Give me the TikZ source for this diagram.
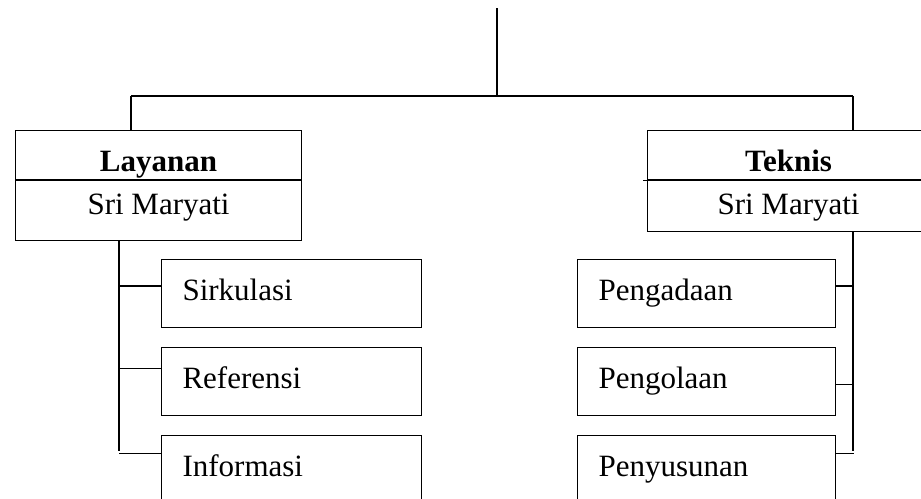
\documentclass[tikz,border=0pt]{standalone}
\usepackage{fontspec}
\setmainfont{Liberation Serif}
\usetikzlibrary{positioning}

\begin{document}
\begin{tikzpicture}[
    x=1pt, y=-1pt,
    node distance=19pt,
    line width=1.1pt,
    headbox/.style={draw, minimum width=286pt, inner ysep=0pt,
      text height=41pt, text depth=8pt, font=\fontsize{31}{36}\selectfont\bfseries},
    namebox/.style={draw, minimum width=286pt, inner ysep=0pt,
      text height=34pt, text depth=17pt, font=\fontsize{31}{36}\selectfont},
    unitbox/.style={draw, text width=218pt, inner xsep=21pt, inner ysep=0pt,
      text height=41pt, text depth=27pt, align=left, font=\fontsize{31}{36}\selectfont}
  ]
    \clip (0,0) rectangle (921,498);

    % kepala bagian
    \node[headbox, anchor=north west] (layanan) at (15,130) {Layanan};
    \node[namebox, below=0pt of layanan, text depth=26pt] (layananname) {Sri Maryati};
    \node[headbox, anchor=north west, minimum width=282pt] (teknis) at (647,130) {Teknis};
    \node[namebox, below=0pt of teknis, minimum width=282pt] (teknisname) {Sri Maryati};

    % unit layanan
    \node[unitbox, anchor=north west] (sirkulasi) at (161,259) {Sirkulasi};
    \node[unitbox, below=of sirkulasi] (referensi) {Referensi};
    \node[unitbox, below=of referensi] (informasi) {Informasi};

    % unit teknis
    \node[unitbox, anchor=north west, text width=216pt] (pengadaan) at (577,259) {Pengadaan};
    \node[unitbox, below=of pengadaan, text width=216pt] (pengolaan) {Pengolaan};
    \node[unitbox, below=of pengolaan, text width=216pt] (penyusunan) {Penyusunan};

    \coordinate (top) at (497,8);
    \coordinate (bus) at (497,96);
    \coordinate (lbus) at (131,96);
    \coordinate (rbus) at (853,96);
    \coordinate (ltrunk) at (119,451);
    \coordinate (rtrunk) at (853,451);

    \draw (top) -- (bus);
    \draw (lbus) -- (rbus);
    \draw (lbus) -- (lbus |- layanan.north);
    \draw (rbus) -- (rbus |- teknis.north);
    \draw (teknisname.north west) -- ++(-4,0);

    \draw (ltrunk |- layananname.south) -- (ltrunk);
    \foreach \n/\d in {sirkulasi/27, referensi/21, informasi/18}
      \draw ([yshift=-\d pt]\n.north west) -- ++(-42,0);

    \draw (rtrunk |- teknisname.south) -- (rtrunk);
    \foreach \n/\d in {pengadaan/27, pengolaan/37, penyusunan/18}
      \draw ([yshift=-\d pt]\n.north east) -- ++(18,0);
  \end{tikzpicture}
\end{document}
